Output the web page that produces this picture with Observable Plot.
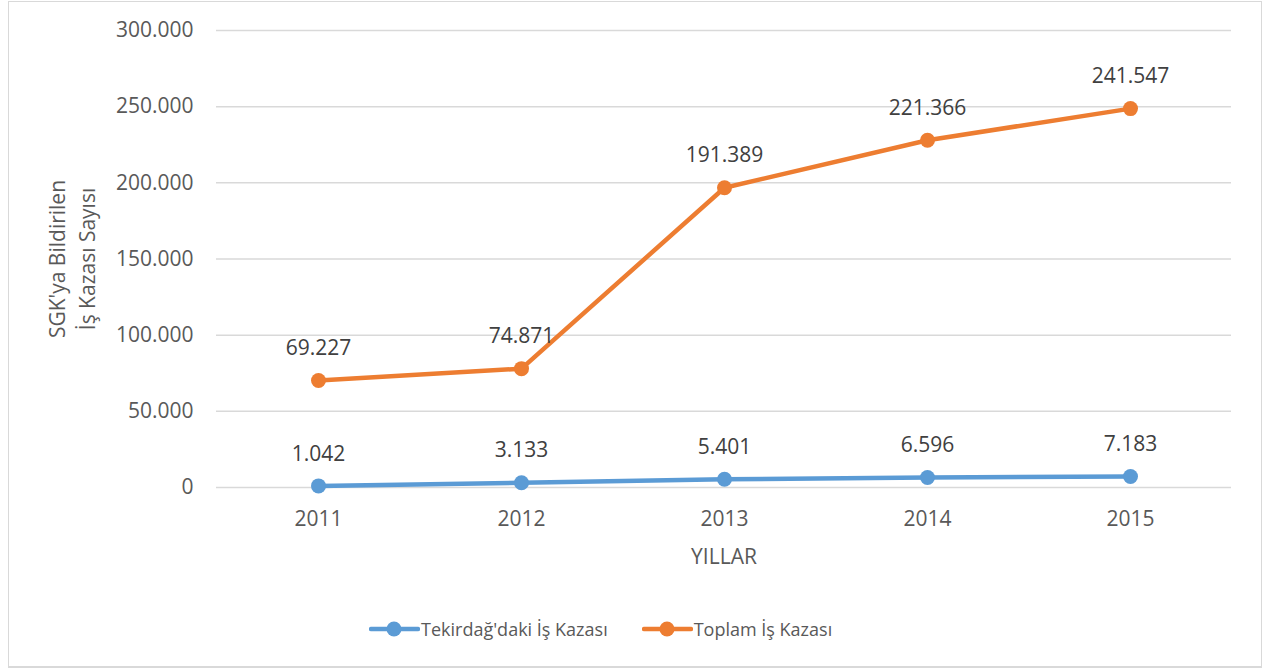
<!DOCTYPE html>
<html>
<head>
<meta charset="utf-8">
<script src="https://cdn.jsdelivr.net/npm/d3@7"></script>
<script src="https://cdn.jsdelivr.net/npm/@observablehq/plot@0.6"></script>
<style>
  body { margin: 0; background: #fff; font-family: "Open Sans", "Noto Sans", sans-serif; }
  #frame { position: absolute; left: 8px; top: 1px; width: 1252px; height: 664px; border: 1px solid #d9d9d9; border-bottom-width: 2px; }
  #chart { position: absolute; left: 0; top: 0; }
  #legend { position: absolute; left: 369px; top: 617px; display: flex; font-size: 18px; color: #595959; }
  .item { display: flex; align-items: center; margin-right: 34px; }
  .item svg { margin-right: 1px; }
</style>
</head>
<body>
<div id="frame"></div>
<div id="chart"></div>
<div id="legend"></div>
<script>
const years = ["2011", "2012", "2013", "2014", "2015"];
const tekirdag = [1042, 3133, 5401, 6596, 7183];
const toplam = [69227, 74871, 191389, 221366, 241547];
const seriesNames = ["Tekirdağ'daki İş Kazası", "Toplam İş Kazası"];
const colors = ["#5B9BD5", "#ED7D31"];
const yTicks = [0, 50000, 100000, 150000, 200000, 250000, 300000];

const locale = d3.formatLocale({decimal: ",", thousands: ".", grouping: [3], currency: ["", ""]});
const fmt = locale.format(",");

const data = [];
years.forEach((yr, i) => data.push({year: yr, series: seriesNames[0], value: tekirdag[i]}));
years.forEach((yr, i) => data.push({year: yr, series: seriesNames[1], value: toplam[i]}));

const stackOpts = {x: "year", y: "value", z: "series", order: null};

const chart = Plot.plot({
  width: 1264,
  height: 600,
  marginLeft: 216,
  marginRight: 33,
  marginTop: 30,
  marginBottom: 113,
  style: {fontFamily: "'Open Sans', 'Noto Sans', sans-serif", fontSize: "21px", color: "#595959", background: "transparent"},
  x: {type: "point", domain: years, padding: 0.5, label: null},
  y: {domain: [0, 300000], label: null},
  color: {domain: seriesNames, range: colors},
  marks: [
    Plot.ruleY(yTicks, {stroke: "#d9d9d9", strokeWidth: 1.5}),
    Plot.axisY({ticks: yTicks, tickSize: 0, tickPadding: 23, tickFormat: fmt, label: null, fontSize: 21}),
    Plot.axisX({tickSize: 0, tickPadding: 24, label: null, fontSize: 21}),
    Plot.lineY(data, Plot.stackY2({...stackOpts, stroke: "series", strokeWidth: 4.5})),
    Plot.dot(data, Plot.stackY2({...stackOpts, fill: "series", r: 7.5})),
    Plot.text(data, Plot.stackY2({...stackOpts, text: d => fmt(d.value), dy: -32, fill: "#404040", fontSize: 21})),
    Plot.text(["SGK'ya Bildirilen\nİş Kazası Sayısı"], {frameAnchor: "left", textAnchor: "middle", rotate: -90, dx: -146, fill: "#595959", fontSize: 21, lineHeight: 1.43}),
    Plot.text(["YILLAR"], {frameAnchor: "bottom", dy: 76, fill: "#595959", fontSize: 21})
  ]
});
document.getElementById("chart").appendChild(chart);

const legend = document.getElementById("legend");
seriesNames.forEach((name, i) => {
  const item = document.createElement("div");
  item.className = "item";
  item.innerHTML = `<svg width="51" height="18"><line x1="2" y1="9" x2="49" y2="9" stroke="${colors[i]}" stroke-width="4.5" stroke-linecap="round"/><circle cx="25" cy="9" r="7.5" fill="${colors[i]}"/></svg><span>${name}</span>`;
  legend.appendChild(item);
});
</script>
</body>
</html>
